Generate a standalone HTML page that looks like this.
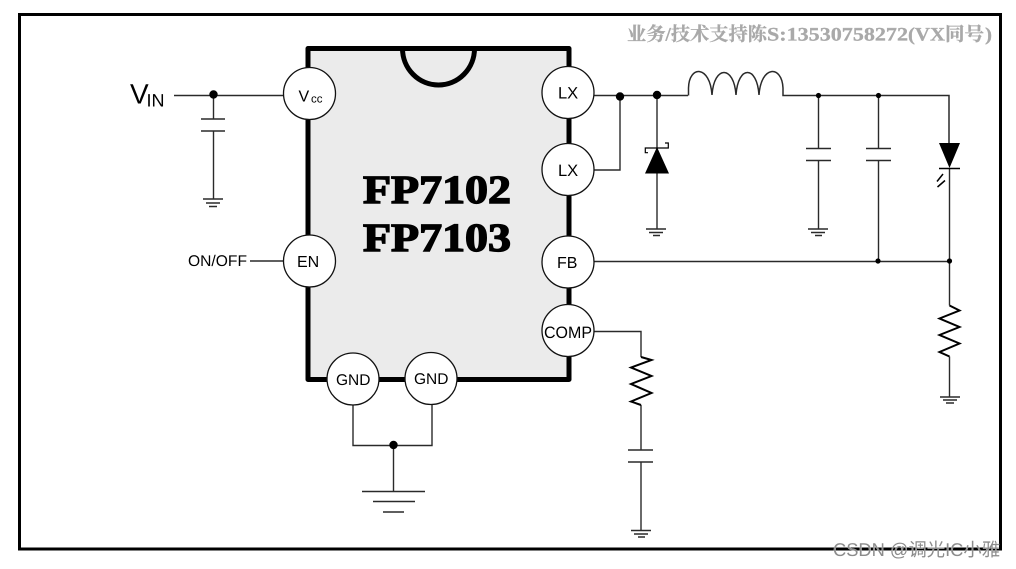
<!DOCTYPE html>
<html><head><meta charset="utf-8">
<style>
html,body{margin:0;padding:0;background:#fff;width:1016px;height:569px;overflow:hidden}
svg{display:block;text-rendering:geometricPrecision}
.s{font-family:"Liberation Sans",Arial,sans-serif;fill:#000}
.w{fill:none;stroke:#2a2a2a;stroke-width:1.4}
.p{fill:#fff;stroke:#111;stroke-width:1.3}
</style></head>
<body>
<svg width="1016" height="569" viewBox="0 0 1016 569" xmlns="http://www.w3.org/2000/svg">
<rect x="19.5" y="14.5" width="981" height="534.5" fill="#fff" stroke="#000" stroke-width="3"/>

<!-- chip -->
<rect x="308" y="48.500" width="261" height="331" fill="#ebebeb" stroke="#000" stroke-width="5" stroke-linejoin="round"/>
<path d="M402.500 48.500 A36 36.500 0 0 0 474.500 48.500" fill="none" stroke="#000" stroke-width="5"/>
<text font-family="'Liberation Serif','Times New Roman',serif" font-weight="700" font-size="40" x="363" y="203" textLength="148" lengthAdjust="spacingAndGlyphs" stroke="#000" stroke-width="1.4">FP7102</text>
<text font-family="'Liberation Serif','Times New Roman',serif" font-weight="700" font-size="40" x="363" y="251" textLength="148" lengthAdjust="spacingAndGlyphs" stroke="#000" stroke-width="1.4">FP7103</text>

<!-- wires -->
<g class="w">
<path d="M174 95.500H284"/>
<path d="M213.500 95V119M213.500 131V199"/>
<path d="M201 119H225M201 131H225"/>
<path d="M203 199H223M206 203H220M209 206.500H217"/>
<path d="M250 261H284"/>
<path d="M594 95.500H688"/>
<path d="M620 96V170H594"/>
<path d="M657 95V229"/>
<path d="M646 229H666M649 232.500H663M653 235.500H660"/>
<path d="M688.500 95.500V88C689 65 710 65 712 95 C714 65 734 65 736 95 C738 65 757 65 759 95 C761 65 782 65 783 88V95.500H949V143" stroke-width="1.500"/>
<path d="M818.500 95.500V148.500M818.500 160.500V229"/>
<path d="M806 148.500H831M806 160.500H831"/>
<path d="M808 229H828M811 232.500H825M815 235.500H822"/>
<path d="M878.500 95.500V148.500M878.500 160.500V261"/>
<path d="M866 148.500H891M866 160.500H891"/>
<path d="M949.500 168V305.500"/>
<path d="M594 261.500H949.500"/>
<path d="M949.500 356.500V397"/>
<path d="M940 397H960M943 400H957M946 403H954"/>
<path d="M594 331.500H641V357"/>
<path d="M641 405V450M641 462V531"/>
<path d="M628 450H653M628 462H653"/>
<path d="M631 530.500H651M634 534H648M638 537H645"/>
<path d="M353 405V445.500H432V405"/>
<path d="M393.500 445V491.500"/>
<path d="M362 491.500H425M373 501.500H415M383 512H404"/>
<path d="M949.500 305.500L959.500 310.500L939.500 318.500L959.500 327L939.500 335L959.500 343.500L939.500 352L949.500 356.500" stroke="#000" stroke-width="2"/>
<path d="M641 357L651.500 360L631 367.500L651.500 376L631 384L651.500 393L631 401.500L641 405" stroke="#000" stroke-width="2"/>
<!-- schottky hooks -->
<path d="M648 152.700H645.300V148H668.300V143H665" stroke="#000" stroke-width="1.200"/>
<path d="M939 168.500H960" stroke="#000" stroke-width="1.500"/>
<path d="M937 181.500L943 174M937.500 187L945 180.500" stroke="#000" stroke-width="1.500"/>
</g>

<!-- diode and LED -->
<path d="M657 147L669 173.500H645Z" fill="#000"/>
<path d="M939 143H960L949.500 168Z" fill="#000"/>

<!-- dots -->
<g fill="#000">
<circle cx="213.500" cy="94.500" r="4.200"/>
<circle cx="620" cy="96.500" r="4.200"/>
<circle cx="657" cy="95" r="4.200"/>
<circle cx="818.500" cy="95.500" r="2.600"/>
<circle cx="878.500" cy="95.500" r="2.600"/>
<circle cx="878" cy="261" r="2.600"/>
<circle cx="949.500" cy="261" r="2.600"/>
<circle cx="393.500" cy="445" r="4.200"/>
</g>

<!-- pins -->
<circle class="p" cx="309.500" cy="93.500" r="26"/>
<circle class="p" cx="309.500" cy="261" r="26"/>
<circle class="p" cx="568" cy="92.500" r="26"/>
<circle class="p" cx="568" cy="169.500" r="26"/>
<circle class="p" cx="568" cy="262" r="26"/>
<circle class="p" cx="568" cy="330.500" r="26"/>
<circle class="p" cx="353" cy="379" r="26"/>
<circle class="p" cx="431" cy="378.500" r="26"/>

<!-- labels -->
<text class="s" x="130" y="103.500" font-size="28">V</text>
<text class="s" x="146.500" y="106.500" font-size="18">IN</text>
<text class="s" x="298.500" y="101.500" font-size="16">V</text>
<text class="s" x="311" y="102.500" font-size="11.500">cc</text>
<text class="s" x="188" y="266" font-size="15.500" textLength="59" lengthAdjust="spacingAndGlyphs">ON/OFF</text>
<text class="s" x="297" y="267" font-size="16">EN</text>
<text class="s" x="558" y="98.500" font-size="16.500">LX</text>
<text class="s" x="558" y="176" font-size="16.500">LX</text>
<text class="s" x="557" y="268" font-size="16">FB</text>
<text class="s" x="544" y="338" font-size="16.500" textLength="48" lengthAdjust="spacingAndGlyphs">COMP</text>
<text class="s" x="336" y="385" font-size="15.500">GND</text>
<text class="s" x="414" y="384" font-size="15.500">GND</text>

<g font-weight="700" font-size="19" fill="#a9a9a9" stroke="#a9a9a9" stroke-width=".3" font-family="'Liberation Serif','Noto Serif CJK SC',serif">
<text x="627" y="40.500" textLength="140" lengthAdjust="spacingAndGlyphs">业务/技术支持陈</text>
<text x="767" y="40.500" textLength="141" lengthAdjust="spacingAndGlyphs">S:13530758272</text>
<text x="908" y="40.500" textLength="37" lengthAdjust="spacingAndGlyphs">(VX</text>
<text x="945" y="40.500" textLength="39" lengthAdjust="spacingAndGlyphs">同号</text>
<text x="985" y="40.500" textLength="7" lengthAdjust="spacingAndGlyphs">)</text>
</g>
<text x="833" y="556" font-family="'Liberation Sans','Noto Sans CJK SC',sans-serif" font-size="18.500" fill="#8c8c8c" stroke="#fff" stroke-width=".3" textLength="167" lengthAdjust="spacingAndGlyphs" style="paint-order:stroke">CSDN @调光IC小雅</text>
</svg>
</body></html>
